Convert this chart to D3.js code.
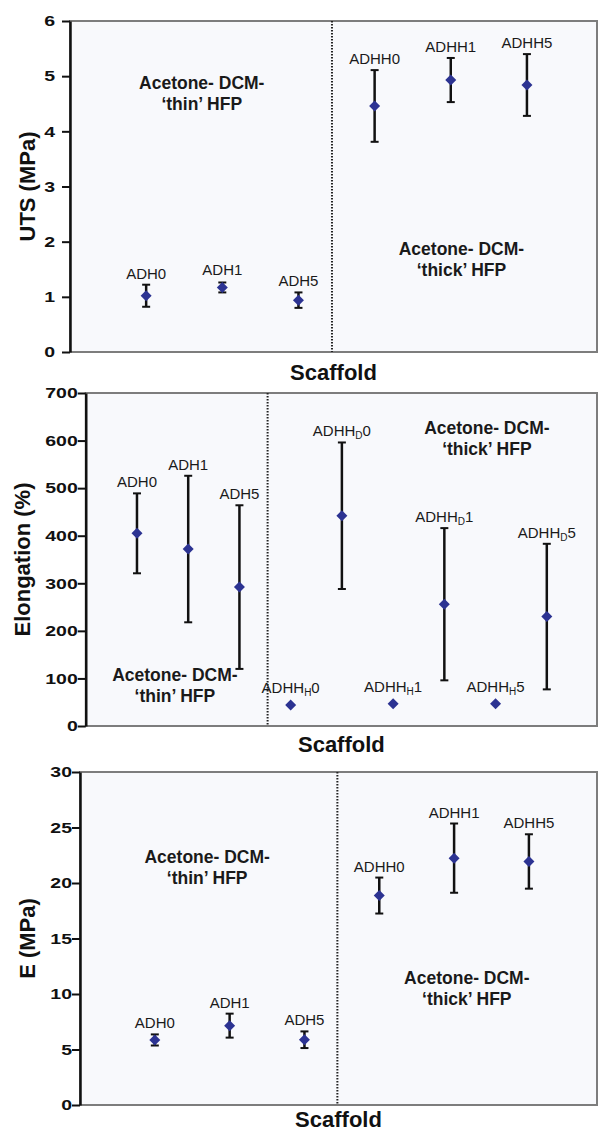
<!DOCTYPE html>
<html>
<head>
<meta charset="utf-8">
<script src="https://cdn.jsdelivr.net/npm/d3@7"></script>
<style>
  body { margin: 0; background: #ffffff; }
  svg { display: block; font-family: "Liberation Sans", Arial, sans-serif; }
</style>
</head>
<body>
<svg id="chart" width="599" height="1132"></svg>
<script>
// ---- data ----
var utsLabels = ["ADH0", "ADH1", "ADH5", "ADHH0", "ADHH1", "ADHH5"];
var utsMean   = [1.02, 1.17, 0.94, 4.46, 4.93, 4.84];
var utsErr    = [0.20, 0.09, 0.14, 0.65, 0.40, 0.56];
var utsTicks  = [0, 1, 2, 3, 4, 5, 6];

// "_X" marks a subscript letter
var elongLabels = ["ADH0", "ADH1", "ADH5", "ADHH_H0", "ADHH_D0", "ADHH_H1", "ADHH_D1", "ADHH_H5", "ADHH_D5"];
var elongMean   = [405, 372, 292, 44, 442, 47, 256, 47, 230];
var elongErr    = [84, 154, 172, 0, 154, 0, 160, 0, 153];
var elongTicks  = [0, 100, 200, 300, 400, 500, 600, 700];

var modLabels = ["ADH0", "ADH1", "ADH5", "ADHH0", "ADHH1", "ADHH5"];
var modMean   = [5.86, 7.15, 5.88, 18.87, 22.24, 21.94];
var modErr    = [0.50, 1.08, 0.75, 1.62, 3.12, 2.45];
var modTicks  = [0, 5, 10, 15, 20, 25, 30];

var thinText  = ["Acetone- DCM-", "\u2018thin\u2019 HFP"];
var thickText = ["Acetone- DCM-", "\u2018thick\u2019 HFP"];

// ---- panel layout ----
var panels = [
  { title: "UTS (MPa)", labels: utsLabels, mean: utsMean, err: utsErr, ticks: utsTicks,
    left: 70, right: 597, top: 21, bottom: 352, xMax: 6.92, divider: 3.44,
    titleX: 35, scaffoldY: 380, tickPad: 7,
    notes: [{ x: 1.73, y: 4.87, text: thinText }, { x: 5.14, y: 1.87, text: thickText }] },
  { title: "Elongation (%)", labels: elongLabels, mean: elongMean, err: elongErr, ticks: elongTicks,
    left: 85.75, right: 597, top: 393, bottom: 726, xMax: 9.98, divider: 3.55,
    titleX: 30, scaffoldY: 752, tickPad: 0,
    notes: [{ x: 1.74, y: 107, text: thinText }, { x: 7.83, y: 627, text: thickText }] },
  { title: "E (MPa)", labels: modLabels, mean: modMean, err: modErr, ticks: modTicks,
    left: 80, right: 597, top: 772, bottom: 1105, xMax: 6.91, divider: 3.44,
    titleX: 35, scaffoldY: 1127, tickPad: 0,
    notes: [{ x: 1.70, y: 22.36, text: thinText }, { x: 5.17, y: 11.45, text: thickText }] }
];

var svg = d3.select("#chart");
var markerColor = "#2c3392";
var tickStretch = 1.3;

function diamond(r) {
  return "M0," + (-r) + "L" + r + ",0L0," + r + "L" + (-r) + ",0Z";
}

function addLabel(sel, str) {
  var parts = str.split("_");
  sel.append("tspan").text(parts[0]);
  if (parts.length > 1) {
    sel.append("tspan").attr("font-size", "10px").attr("dy", 3).text(parts[1].charAt(0));
    sel.append("tspan").attr("dy", -3).text(parts[1].slice(1));
  }
}

panels.forEach(function(p) {
  var g = svg.append("g");
  var x = d3.scaleLinear().domain([0, p.xMax]).range([p.left, p.right]);
  var yMax = p.ticks[p.ticks.length - 1];
  var y = d3.scaleLinear().domain([0, yMax]).range([p.bottom, p.top]);

  // plot area + grey frame
  g.append("rect")
    .attr("x", p.left).attr("y", p.top)
    .attr("width", p.right - p.left).attr("height", p.bottom - p.top)
    .attr("fill", "#f8f9fc").attr("stroke", "#7d7d7d").attr("stroke-width", 2);

  // dotted divider
  g.append("line")
    .attr("x1", x(p.divider)).attr("x2", x(p.divider))
    .attr("y1", p.top).attr("y2", p.bottom)
    .attr("stroke", "#222").attr("stroke-width", 2).attr("stroke-dasharray", "1.5,1.5");

  // y axis
  var axis = d3.axisLeft(y).tickValues(p.ticks).tickFormat(d3.format("d"))
    .tickSize(8).tickPadding(p.tickPad).tickSizeOuter(0);
  var ag = g.append("g").attr("transform", "translate(" + p.left + ",0)").call(axis);
  ag.select(".domain").attr("stroke", "#111").attr("stroke-width", 2.5);
  ag.selectAll(".tick line").attr("stroke", "#111").attr("stroke-width", 2);
  ag.selectAll(".tick text")
    .attr("fill", "#111").attr("font-size", "15px").attr("font-weight", "bold")
    .attr("font-family", "'Liberation Sans', Arial, sans-serif")
    .attr("x", -(8 + p.tickPad) / tickStretch)
    .attr("transform", "scale(" + tickStretch + ",1)");

  // axis titles
  g.append("text")
    .attr("transform", "translate(" + p.titleX + "," + ((p.top + p.bottom) / 2) + ") rotate(-90)")
    .attr("text-anchor", "middle").attr("font-size", "22px").attr("font-weight", "bold")
    .attr("fill", "#111").text(p.title);
  g.append("text")
    .attr("x", (p.left + p.right) / 2).attr("y", p.scaffoldY)
    .attr("text-anchor", "middle").attr("font-size", "22px").attr("font-weight", "bold")
    .attr("fill", "#111").text("Scaffold");

  // group notes
  p.notes.forEach(function(n) {
    n.text.forEach(function(line, i) {
      g.append("text")
        .attr("x", x(n.x)).attr("y", y(n.y) + 6 + i * 21)
        .attr("text-anchor", "middle").attr("font-size", "17.5px").attr("font-weight", "bold")
        .attr("fill", "#1a1a1a").text(line);
    });
  });

  var pts = p.mean.map(function(m, i) {
    return { pos: i + 1, mean: m, err: p.err[i], label: p.labels[i] };
  });

  // error bars
  var eb = g.selectAll(".eb").data(pts.filter(function(d) { return d.err > 0; }))
    .enter().append("g").attr("stroke", "#111").attr("stroke-width", 2.5);
  eb.append("line")
    .attr("x1", function(d) { return x(d.pos); }).attr("x2", function(d) { return x(d.pos); })
    .attr("y1", function(d) { return y(d.mean - d.err); }).attr("y2", function(d) { return y(d.mean + d.err); });
  [1, -1].forEach(function(s) {
    eb.append("line")
      .attr("x1", function(d) { return x(d.pos) - 4; }).attr("x2", function(d) { return x(d.pos) + 4; })
      .attr("y1", function(d) { return y(d.mean + s * d.err); }).attr("y2", function(d) { return y(d.mean + s * d.err); })
      .attr("stroke-width", 2);
  });

  // markers
  g.selectAll(".pt").data(pts).enter().append("path")
    .attr("d", diamond(5.5))
    .attr("transform", function(d) { return "translate(" + x(d.pos) + "," + y(d.mean) + ")"; })
    .attr("fill", markerColor);

  // point labels above the error bar
  g.selectAll(".lbl").data(pts).enter().append("text")
    .attr("x", function(d) { return x(d.pos); })
    .attr("y", function(d) { return Math.min(y(d.mean + d.err), y(d.mean) - 6) - 6; })
    .attr("text-anchor", "middle").attr("font-size", "15px").attr("fill", "#1a1a1a")
    .each(function(d) { addLabel(d3.select(this), d.label); });
});
</script>
</body>
</html>
